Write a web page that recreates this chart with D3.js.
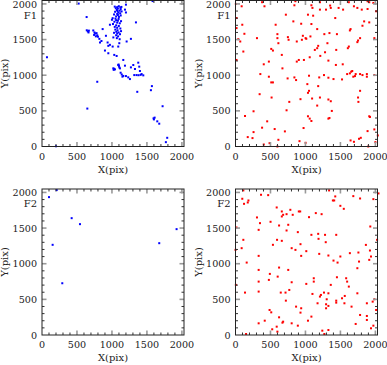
<!DOCTYPE html>
<html>
<head>
<meta charset="utf-8">
<script src="https://d3js.org/d3.v7.min.js"></script>
<style>
  body { margin: 0; background: #fff; }
  text { font-family: "DejaVu Serif", serif; font-size: 10px; fill: #222; }
  text.xt, text.yt { font-size: 9.6px; }
</style>
</head>
<body>
<svg width="387" height="365"></svg>
<script>
// detected sources, pixel coordinates on the frame
var blueF1 = [
  [524,2005],[1581,2040],[71,1252],[200,3],[638,1816],[648,532],[790,908],
  [640,1630],[655,1615],[665,1600],[670,1625],
  [733,1628],[750,1600],[760,1585],[745,1565],[780,1590],[790,1560],[770,1545],
  [800,1540],[820,1510],[829,1459],[850,1480],[867,1647],[914,1553],
  [938,1459],[948,1412],[971,1426],[1010,1402],[900,1346],[948,1308],[1033,1285],[1067,1270],
  [1090,1402],[1105,1449],[1210,1473],[1271,1510],[1343,1741],[971,1708],
  [1186,1920],[1200,1880],[1200,1990],
  [1040,1962],[1075,1955],[1098,1968],[1120,1950],[1135,1958],[1055,1940],[1085,1935],
  [1125,1928],[1070,1915],[1110,1905],[1080,1900],[1138,1895],[1045,1890],[1090,1878],
  [1118,1868],[1075,1860],[1030,1852],[1085,1845],[1125,1838],[1060,1825],[1100,1818],
  [1010,1800],[1050,1795],[1095,1790],[1000,1778],[1060,1772],[1085,1765],[1130,1758],
  [1035,1750],[1075,1738],[1112,1728],[1015,1718],[1060,1700],[1098,1690],[1040,1678],
  [1075,1665],[1120,1655],[1048,1640],[1080,1630],[1130,1618],[1062,1610],[1095,1600],
  [1030,1595],[1075,1585],[1115,1575],[1060,1560],[1088,1545],[1020,1530],[1070,1520],[1110,1505],
  [1019,1096],[1030,1090],[1043,1082],[1025,1075],[1090,1143],[1100,1130],[1114,1096],
  [1105,1110],[1095,1150],[1124,1035],[1140,1010],[1162,990],[1150,980],[1200,988],
  [1233,970],[1257,946],[1162,1214],[1186,1134],[1271,1110],[1305,1143],[1329,1087],
  [1376,1176],[1390,1120],[1400,1059],[1352,1002],[1424,1016],[1448,998],[1319,1002],
  [1380,1000],[1410,1005],
  [1362,767],[1571,847],[1557,790],[1724,565],[1595,395],[1610,405],[1600,380],
  [1648,353],[1676,320],[1790,122],[1771,61]
];

var redF1 = [
  [5,2000],[88,1967],[380,2024],[414,1967],[842,1981],[856,2038],[1085,1981],[1100,1944],
  [1207,2024],[1207,1920],[1294,1920],[1362,1944],[1353,1977],[1474,1944],[1538,1920],
  [1620,2024],[1693,1967],[1742,1944],[1888,2038],[1912,2024],[1971,2014],[2010,1897],
  [1888,1929],[1805,1920],[1036,1849],[1110,1835],[720,1849],[1426,1802],[15,1802],
  [15,1661],[97,1708],[127,1581],[39,1506],[68,1473],[574,1708],[827,1755],[939,1722],
  [1085,1718],[963,1553],[949,1497],[1012,1511],[1071,1544],[1168,1647],[1270,1576],
  [1343,1591],[1450,1576],[1635,1628],[1645,1647],[1742,1464],[1752,1487],[1781,1520],
  [1815,1694],[1839,1755],[1912,1741],[1985,1520],[599,1576],[599,1520],[613,1449],
  [307,1520],[749,1534],[759,1497],[876,1473],[1002,1520],[1182,1412],[1314,1449],
  [112,1332],[511,1369],[535,1346],[662,1285],[1134,1355],[1168,1379],[1440,1355],
  [1606,1379],[1620,1402],[1280,1322],[477,1191],[876,1191],[905,1214],[978,1214],
  [1061,1252],[1212,1271],[1328,1205],[1435,1144],[1533,1153],[1635,1026],[1669,1059],
  [1718,1016],[1781,1016],[1815,1002],[1878,1016],[1985,1002],[15,1214],[404,1153],
  [355,1016],[477,979],[511,899],[535,899],[671,1096],[745,955],[842,969],[866,932],
  [1051,993],[1197,969],[1328,965],[1401,946],[1265,1002],[1523,941],[1596,1016],
  [1654,1049],[1708,988],[1878,979],[345,734],[516,687],[769,626],[929,664],[1027,875],
  [1051,781],[1036,753],[1095,673],[1182,847],[1207,687],[1328,659],[1362,635],[1377,499],
  [1168,574],[730,508],[258,494],[136,428],[1757,626],[1752,687],[1781,781],[1684,979],
  [453,353],[560,245],[706,212],[380,264],[258,202],[175,132],[243,118],[404,28],[487,47],
  [599,0],[613,94],[915,75],[1002,52],[973,259],[1036,424],[1061,391],[1085,358],
  [1328,391],[1343,400],[1645,85],[1693,66],[1766,108],[1791,122],[1912,424],[1922,414],
  [1888,216],[1985,240],[2034,155],[1898,0],[2000,61]
];

var blueF2 = [
  [100,1934],[210,2033],[152,1265],[424,1639],[543,1555],[290,726],[1676,1288],[1924,1485]
];

var redF2 = [
  [112,2028],[97,1911],[122,1840],[175,1859],[185,1887],[365,1967],[467,1962],[589,1789],
  [662,1733],[662,1663],[681,1686],[730,1695],[784,1756],[818,1686],[905,1733],[925,1733],
  [1051,1653],[1148,1710],[1231,1695],[1338,2028],[1426,1944],[1411,1887],[1392,1887],
  [1499,1812],[1548,1770],[1684,1948],[1781,1915],[1971,1906],[2044,1986],[307,1649],
  [350,1569],[501,1588],[331,1475],[623,1536],[754,1546],[730,1466],[891,1443],[15,1508],
  [0,1194],[88,1218],[112,1335],[160,1016],[535,1265],[594,1335],[662,1321],[803,1218],
  [857,1194],[929,1274],[939,1110],[1012,1176],[1085,1405],[1182,1419],[1187,1349],
  [1197,1138],[1280,1405],[1290,1302],[1328,1115],[1401,1044],[1440,1405],[1459,1016],
  [1499,1101],[1635,1148],[1757,1157],[1766,1030],[1742,937],[1864,1264],[1922,1185],
  [1937,1101],[1912,1054],[1927,1522],[2024,1335],[5,703],[136,595],[331,1110],[331,913],
  [331,749],[331,609],[477,773],[491,857],[623,946],[603,819],[754,913],[647,595],[715,595],
  [769,632],[803,740],[720,482],[1012,717],[1100,576],[1119,796],[1119,749],[1207,539],
  [1221,562],[1265,595],[1328,585],[1304,501],[1173,445],[1362,703],[1450,810],[1523,515],
  [1562,548],[1582,796],[1596,749],[1620,679],[1659,398],[1742,585],[1878,445],[1985,501],
  [1961,468],[2010,351],[331,164],[418,201],[525,80],[487,351],[511,318],[623,248],
  [671,173],[681,187],[589,117],[599,47],[803,164],[891,131],[866,398],[939,375],[929,314],
  [1036,201],[1085,258],[1241,61],[1270,14],[1328,70],[1295,431],[1295,375],[1328,408],
  [1440,482],[1440,454],[1557,445],[1781,281],[1878,267],[1878,211],[1937,94],[1971,131],
  [1718,155],[151,14]
];

var tickValues = [0, 500, 1000, 1500, 2000];
var fieldNames = ["F1", "F2"];

var svg = d3.select("svg");
var pw = 142, ph = 146;

var panels = [
  { x0: 42,    y0: 0.5, data: blueF1, color: "#0000ff", label: fieldNames[0] },
  { x0: 235.5, y0: 0.5, data: redF1,  color: "#ff0000", label: fieldNames[0] },
  { x0: 42,    y0: 189, data: blueF2, color: "#0000ff", label: fieldNames[1] },
  { x0: 235.5, y0: 189, data: redF2,  color: "#ff0000", label: fieldNames[1] }
];

panels.forEach(function(p) {
  var x = d3.scaleLinear().domain([0, 2030]).range([p.x0, p.x0 + pw]);
  var y = d3.scaleLinear().domain([0, 2048]).range([p.y0 + ph, p.y0]);
  var g = svg.append("g");

  // points
  g.selectAll("rect.pt")
    .data(p.data)
    .enter().append("rect")
    .attr("class", "pt")
    .attr("x", function(d) { return x(d[0]) - 1; })
    .attr("y", function(d) { return y(d[1]) - 1; })
    .attr("width", 2)
    .attr("height", 2)
    .attr("fill", p.color);

  // ticks on all four sides, pointing in
  var minor = d3.range(100, 2030, 100).filter(function(v) { return v % 500 != 0; });
  var major = tickValues.filter(function(v) { return v > 0; });
  var ticks = minor.map(function(v) { return { v: v, len: 2.5, c: "#333", w: 1 }; })
    .concat(major.map(function(v) { return { v: v, len: 4.5, c: "#999", w: 1.6 }; }));

  ticks.forEach(function(t) {
    var xv = x(t.v), yv = y(t.v);
    [[xv, p.y0 + ph, xv, p.y0 + ph - t.len],
     [xv, p.y0, xv, p.y0 + t.len],
     [p.x0, yv, p.x0 + t.len, yv],
     [p.x0 + pw, yv, p.x0 + pw - t.len, yv]].forEach(function(s) {
      g.append("line")
        .attr("x1", s[0]).attr("y1", s[1]).attr("x2", s[2]).attr("y2", s[3])
        .attr("stroke", t.c).attr("stroke-width", t.w);
    });
  });

  g.append("rect")
    .attr("x", p.x0).attr("y", p.y0)
    .attr("width", pw).attr("height", ph)
    .attr("fill", "none").attr("stroke", "#222").attr("stroke-width", 1);

  // tick labels
  g.selectAll("text.xt")
    .data(tickValues)
    .enter().append("text")
    .attr("class", "xt")
    .attr("x", function(d) { return x(d); })
    .attr("y", p.y0 + ph + 13)
    .attr("text-anchor", "middle")
    .text(function(d) { return d; });

  g.selectAll("text.yt")
    .data(tickValues)
    .enter().append("text")
    .attr("class", "yt")
    .attr("x", p.x0 - 5)
    .attr("y", function(d) { return Math.max(y(d) + 3.5, 7.5); })
    .attr("text-anchor", "end")
    .text(function(d) { return d; });

  g.append("text")
    .attr("x", p.x0 - 5)
    .attr("y", p.y0 + 18)
    .attr("text-anchor", "end")
    .text(p.label);

  g.append("text")
    .attr("x", p.x0 + pw / 2)
    .attr("y", p.y0 + ph + 26)
    .attr("text-anchor", "middle")
    .text("X(pix)");

  g.append("text")
    .attr("transform", "translate(" + (p.x0 - 34) + "," + (p.y0 + ph / 2) + ") rotate(-90)")
    .attr("text-anchor", "middle")
    .text("Y(pix)");
});
</script>
</body>
</html>
